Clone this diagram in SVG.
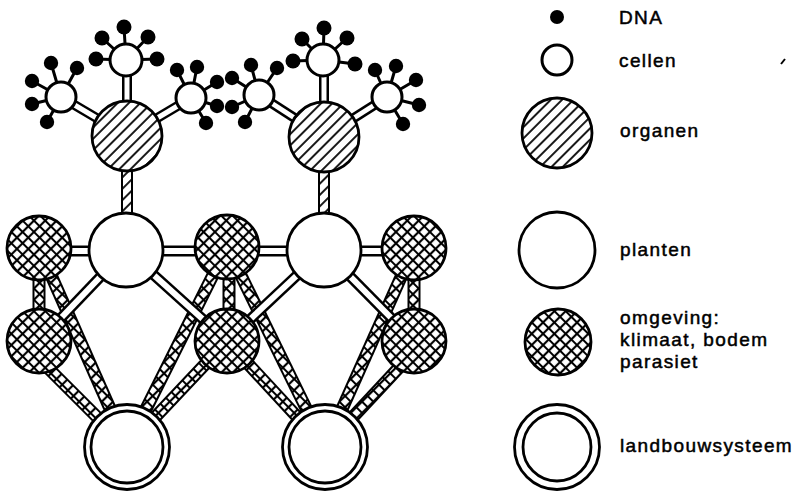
<svg xmlns="http://www.w3.org/2000/svg" width="806" height="492" viewBox="0 0 806 492">
<defs>
  <pattern id="cross" width="8" height="8" patternUnits="userSpaceOnUse" patternTransform="rotate(45)">
    <rect width="8" height="8" fill="#fff"/>
    <path d="M0 4H8M4 0V8" stroke="#000" stroke-width="2.2"/>
  </pattern>
  <pattern id="diag" width="8" height="8" patternUnits="userSpaceOnUse" patternTransform="rotate(-45)">
    <rect width="8" height="8" fill="#fff"/>
    <path d="M0 4H8" stroke="#000" stroke-width="1.8"/>
  </pattern>
  <style>
    .dna{fill:#000}
    .stick{stroke:#000;stroke-width:3}
    .cell{fill:#fff;stroke:#000;stroke-width:3}
    .organ{fill:url(#diag);stroke:#000;stroke-width:2.8}
    .plant{fill:#fff;stroke:#000;stroke-width:2.8}
    .env{fill:url(#cross);stroke:#000;stroke-width:2.8}
    .lb{fill:#fff;stroke:#000;stroke-width:2.8}
    .wo{stroke:#000;stroke-width:11}
    .wi{stroke:#fff;stroke-width:6}
    .ho{stroke:#000;stroke-width:13}
    .hi{stroke:url(#cross);stroke-width:9}
    .do{stroke:#000;stroke-width:12}
    .di{stroke:url(#diag);stroke-width:8}
    .co{stroke:#000;stroke-width:10}
    .ci{stroke:#fff;stroke-width:5}
    text{font-family:"Liberation Sans",Arial,sans-serif;font-size:19px;letter-spacing:1.4px;fill:#000;stroke:#000;stroke-width:0.5}
  </style>
</defs>
<g id="connectors">
  <g class="stick">
    <path d="M126 60L124 27M126 60L102 38M126 60L148 37M126 60L96 59M126 60L157 59"/>
    <path d="M61 97L51 63M61 97L77 68M61 97L32 81M61 97L32 104M61 97L47 122"/>
    <path d="M191 98L177 70M191 98L197 67M191 98L217 82M191 98L217 106M191 98L206 123"/>
    <path d="M323 60L324 28M323 60L302 39M323 60L347 38M323 60L293 61M323 60L355 64"/>
    <path d="M259 95L251 65M259 95L277 68M259 95L232 78M259 95L232 107M259 95L245 122"/>
    <path d="M387 97L375 70M387 97L396 66M387 97L416 80M387 97L419 105M387 97L403 124"/>
  </g>
  <path class="co" d="M127 70V110"/><path class="ci" d="M127 70V110"/>
  <path class="co" d="M61 97L127 136"/><path class="ci" d="M61 97L127 136"/>
  <path class="co" d="M191 98L127 136"/><path class="ci" d="M191 98L127 136"/>
  <path class="co" d="M324 70V110"/><path class="ci" d="M324 70V110"/>
  <path class="co" d="M259 95L324 137"/><path class="ci" d="M259 95L324 137"/>
  <path class="co" d="M387 97L324 137"/><path class="ci" d="M387 97L324 137"/>
  <path class="do" d="M127 160V225"/><path class="di" d="M127 160V225"/>
  <path class="do" d="M324 160V225"/><path class="di" d="M324 160V225"/>
  <path class="ho" d="M39 248V341"/><path class="hi" d="M39 248V341"/>
  <path class="ho" d="M229 247V341"/><path class="hi" d="M229 247V341"/>
  <path class="ho" d="M414 248V341"/><path class="hi" d="M414 248V341"/>
  <path class="ho" d="M39 248L127 447"/><path class="hi" d="M39 248L127 447"/>
  <path class="ho" d="M33 353L127 447"/><path class="hi" d="M33 353L127 447"/>
  <path class="ho" d="M227 247L127 447"/><path class="hi" d="M227 247L127 447"/>
  <path class="ho" d="M227 341L127 447"/><path class="hi" d="M227 341L127 447"/>
  <path class="ho" d="M227 247L325 447"/><path class="hi" d="M227 247L325 447"/>
  <path class="ho" d="M227 341L325 447"/><path class="hi" d="M227 341L325 447"/>
  <path class="ho" d="M414 248L325 447"/><path class="hi" d="M414 248L325 447"/>
  <path class="ho" d="M420 345L325 447"/><path class="hi" d="M420 345L325 447"/>
  <path class="wo" d="M126 251H39"/><path class="wi" d="M126 251H39"/>
  <path class="wo" d="M126 251H227"/><path class="wi" d="M126 251H227"/>
  <path class="wo" d="M126 250L39 341"/><path class="wi" d="M126 250L39 341"/>
  <path class="wo" d="M126 250L227 341"/><path class="wi" d="M126 250L227 341"/>
  <path class="wo" d="M324 251H227"/><path class="wi" d="M324 251H227"/>
  <path class="wo" d="M324 251H414"/><path class="wi" d="M324 251H414"/>
  <path class="wo" d="M324 250L227 341"/><path class="wi" d="M324 250L227 341"/>
  <path class="wo" d="M324 250L414 341"/><path class="wi" d="M324 250L414 341"/>
</g>
<g id="cell-lt"><circle class="cell" cx="126" cy="60" r="16"/>
  <g class="dna"><circle cx="124" cy="27" r="7.5"/><circle cx="102" cy="38" r="7.5"/><circle cx="148" cy="37" r="7.5"/><circle cx="96" cy="59" r="7.5"/><circle cx="157" cy="59" r="7.5"/></g></g>
<g id="cell-ll"><circle class="cell" cx="61" cy="97" r="15"/>
  <g class="dna"><circle cx="51" cy="63" r="7.2"/><circle cx="77" cy="68" r="7.2"/><circle cx="32" cy="81" r="7.2"/><circle cx="32" cy="104" r="7.2"/><circle cx="47" cy="122" r="7.2"/></g></g>
<g id="cell-lr"><circle class="cell" cx="191" cy="98" r="15"/>
  <g class="dna"><circle cx="177" cy="70" r="7.2"/><circle cx="197" cy="67" r="7.2"/><circle cx="217" cy="82" r="7.2"/><circle cx="217" cy="106" r="7.2"/><circle cx="206" cy="123" r="7.2"/></g></g>
<g id="cell-rt"><circle class="cell" cx="323" cy="60" r="16"/>
  <g class="dna"><circle cx="324" cy="28" r="7.5"/><circle cx="302" cy="39" r="7.5"/><circle cx="347" cy="38" r="7.5"/><circle cx="293" cy="61" r="7.5"/><circle cx="355" cy="64" r="7.5"/></g></g>
<g id="cell-rl"><circle class="cell" cx="259" cy="95" r="15"/>
  <g class="dna"><circle cx="251" cy="65" r="7.2"/><circle cx="277" cy="68" r="7.2"/><circle cx="232" cy="78" r="7.2"/><circle cx="232" cy="107" r="7.2"/><circle cx="245" cy="122" r="7.2"/></g></g>
<g id="cell-rr"><circle class="cell" cx="387" cy="97" r="15"/>
  <g class="dna"><circle cx="375" cy="70" r="7.2"/><circle cx="396" cy="66" r="7.2"/><circle cx="416" cy="80" r="7.2"/><circle cx="419" cy="105" r="7.2"/><circle cx="403" cy="124" r="7.2"/></g></g>
<g id="organ-l"><circle class="organ" cx="127" cy="136" r="35"/></g>
<g id="organ-r"><circle class="organ" cx="324" cy="137" r="35"/></g>
<g id="plant-l"><circle class="plant" cx="126" cy="250" r="37"/></g>
<g id="plant-r"><circle class="plant" cx="324" cy="250" r="37"/></g>
<g id="env-1"><circle class="env" cx="39" cy="248" r="32"/></g>
<g id="env-2"><circle class="env" cx="39" cy="341" r="32"/></g>
<g id="env-3"><circle class="env" cx="227" cy="247" r="32"/></g>
<g id="env-4"><circle class="env" cx="227" cy="341" r="32"/></g>
<g id="env-5"><circle class="env" cx="414" cy="248" r="32"/></g>
<g id="env-6"><circle class="env" cx="414" cy="341" r="32"/></g>
<g id="lb-l"><circle class="lb" cx="127" cy="447" r="42.5"/><circle class="lb" cx="127" cy="447" r="36"/></g>
<g id="lb-r"><circle class="lb" cx="325" cy="447" r="42.5"/><circle class="lb" cx="325" cy="447" r="36"/></g>
<g id="legend">
  <circle class="dna" cx="557" cy="17" r="7"/>
  <text x="619" y="24">DNA</text>
  <circle class="cell" cx="557" cy="60" r="15"/>
  <text x="619" y="67">cellen</text>
  <path d="M781 64L785 59" stroke="#000" stroke-width="2"/>
  <circle class="organ" cx="557" cy="133" r="35"/>
  <text x="620" y="137">organen</text>
  <circle class="plant" cx="557" cy="250" r="38"/>
  <text x="620" y="256">planten</text>
  <circle class="env" cx="558" cy="342" r="33"/>
  <text x="620" y="324">omgeving:</text>
  <text x="620" y="346">klimaat, bodem</text>
  <text x="620" y="368">parasiet</text>
  <circle class="lb" cx="557" cy="447" r="42.5"/>
  <circle class="lb" cx="557" cy="447" r="34"/>
  <text x="620" y="452">landbouwsysteem</text>
</g>
</svg>
